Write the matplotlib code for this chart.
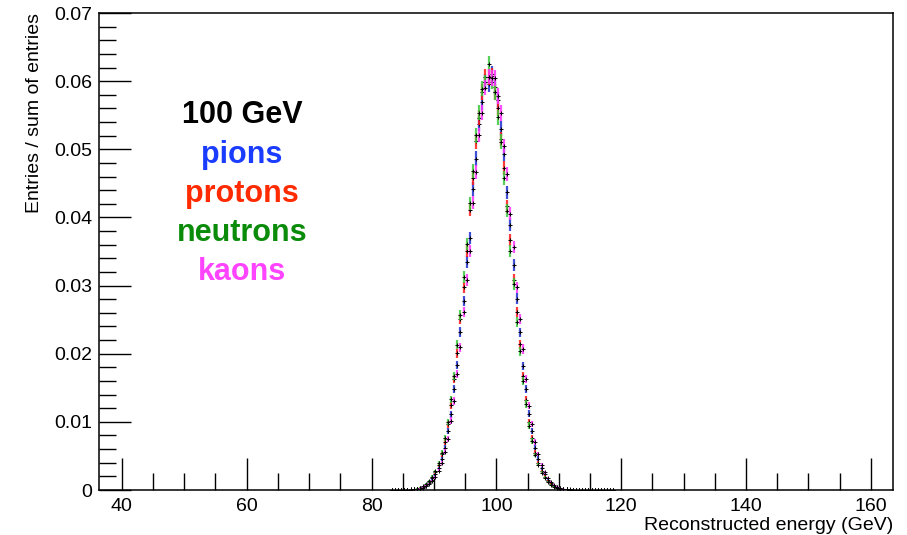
import numpy as np
import matplotlib
matplotlib.use("Agg")
import matplotlib.pyplot as plt
from matplotlib.ticker import MultipleLocator, FuncFormatter

plt.rcParams['font.family'] = ['Liberation Sans', 'DejaVu Sans']

# normalised reconstructed energy spectra, 0.5 GeV bins starting at 83 GeV
first_center = 83.25
bin_width = 0.5
n_events = 45000  # used for the statistical error bars

pions = [0.00001, 0.00001, 0.00002, 0.00002, 0.00003, 0.00004, 0.00006, 0.00010, 0.00017, 0.00025,
         0.00042, 0.00063, 0.00103, 0.00148, 0.00228, 0.00316, 0.00461, 0.00621, 0.00862, 0.01112,
         0.01478, 0.01836, 0.02318, 0.02772, 0.03344, 0.03702, 0.04418, 0.04864, 0.05372, 0.05688,
         0.05984, 0.05952, 0.06112, 0.05918, 0.05726, 0.05302, 0.04936, 0.04368, 0.03896, 0.03298,
         0.02808, 0.02312, 0.01822, 0.01482, 0.01118, 0.00862, 0.00622, 0.00461, 0.00316, 0.00228,
         0.00148, 0.00102, 0.00064, 0.00042, 0.00025, 0.00017, 0.00010, 0.00006, 0.00004, 0.00003,
         0.00003, 0.00002, 0.00002, 0.00001, 0.00001, 0.00001, 0.00001, 0.00001, 0.0, 0.00001,
         0.0, 0.0]
protons = [0.00001, 0.00001, 0.00002, 0.00002, 0.00003, 0.00005, 0.00008, 0.00012, 0.00020, 0.00030,
           0.00050, 0.00076, 0.00120, 0.00174, 0.00262, 0.00366, 0.00524, 0.00704, 0.00962, 0.01241,
           0.01624, 0.02008, 0.02512, 0.02974, 0.03502, 0.04112, 0.04578, 0.05118, 0.05462, 0.05842,
           0.06058, 0.06062, 0.06082, 0.05838, 0.05604, 0.05148, 0.04732, 0.04162, 0.03668, 0.03086,
           0.02612, 0.02136, 0.01672, 0.01328, 0.01002, 0.00762, 0.00548, 0.00401, 0.00274, 0.00194,
           0.00126, 0.00085, 0.00053, 0.00035, 0.00021, 0.00013, 0.00008, 0.00006, 0.00004, 0.00003,
           0.00003, 0.00002, 0.00002, 0.00002, 0.00001, 0.00001, 0.00001, 0.00001, 0.00001, 0.0,
           0.0, 0.0]
neutrons = [0.00001, 0.00001, 0.00002, 0.00003, 0.00004, 0.00006, 0.00009, 0.00015, 0.00021, 0.00035,
            0.00053, 0.00086, 0.00126, 0.00194, 0.00274, 0.00401, 0.00547, 0.00762, 0.01001, 0.01331,
            0.01672, 0.02131, 0.02568, 0.03128, 0.03612, 0.04206, 0.04682, 0.05204, 0.05538, 0.05892,
            0.05982, 0.06252, 0.05994, 0.05842, 0.05468, 0.05112, 0.04582, 0.04098, 0.03514, 0.03022,
            0.02472, 0.02036, 0.01598, 0.01262, 0.00946, 0.00718, 0.00512, 0.00374, 0.00254, 0.00179,
            0.00116, 0.00078, 0.00048, 0.00032, 0.00019, 0.00012, 0.00008, 0.00005, 0.00004, 0.00003,
            0.00003, 0.00002, 0.00002, 0.00002, 0.00001, 0.00001, 0.00001, 0.00001, 0.0, 0.00001,
            0.0, 0.0]
kaons = [0.00001, 0.00001, 0.00001, 0.00002, 0.00003, 0.00004, 0.00005, 0.00008, 0.00013, 0.00022,
         0.00033, 0.00056, 0.00082, 0.00131, 0.00187, 0.00283, 0.00391, 0.00561, 0.00748, 0.01018,
         0.01306, 0.01702, 0.02096, 0.02612, 0.03082, 0.03502, 0.04214, 0.04672, 0.05212, 0.05538,
         0.05904, 0.06068, 0.06042, 0.06046, 0.05784, 0.05532, 0.05052, 0.04642, 0.04052, 0.03568,
         0.02978, 0.02512, 0.02068, 0.01624, 0.01236, 0.00968, 0.00702, 0.00526, 0.00364, 0.00262,
         0.00174, 0.00120, 0.00076, 0.00050, 0.00030, 0.00019, 0.00012, 0.00008, 0.00005, 0.00004,
         0.00003, 0.00003, 0.00002, 0.00002, 0.00002, 0.00001, 0.00001, 0.00001, 0.00001, 0.00001,
         0.00001, 0.0]

# name, values, text colour, error bar colour
series = [("pions", pions, "#1a3cff", "#2030d0"),
          ("protons", protons, "#ff2a00", "#ff1a1a"),
          ("neutrons", neutrons, "#0a8c0a", "#3cc83c"),
          ("kaons", kaons, "#ff44ff", "#ff33ff")]

fig = plt.figure(figsize=(9.07, 5.35), dpi=100)
ax = fig.add_axes([0.1092, 0.0841, 0.8754, 0.8916])

for name, vals, tcol, ecol in series:
    y = np.array(vals)
    x = first_center + bin_width * np.arange(len(y))
    err = np.sqrt(y / n_events)
    ax.errorbar(x, y, yerr=err, fmt='none', ecolor=ecol, elinewidth=1.6, capsize=0, alpha=0.85)
    ax.plot(x, y, linestyle='none', marker='+', color='black', markersize=3, markeredgewidth=0.7)

ax.set_xlim(36.35, 163.55)
ax.set_ylim(0, 0.07)

ax.xaxis.set_major_locator(MultipleLocator(20))
ax.xaxis.set_minor_locator(MultipleLocator(5))
ax.yaxis.set_major_locator(MultipleLocator(0.01))
ax.yaxis.set_minor_locator(MultipleLocator(0.002))
ax.yaxis.set_major_formatter(FuncFormatter(lambda v, p: "0" if abs(v) < 1e-9 else "%.2f" % v))

ax.tick_params(which='both', direction='in', top=False, right=False, labelsize=14, width=1.0)
ax.tick_params(which='major', length=23)
ax.tick_params(which='minor', length=12)
ax.tick_params(axis='y', pad=5)
ax.tick_params(axis='x', pad=6)
for sp in ax.spines.values():
    sp.set_linewidth(1.1)

ax.set_xlabel("Reconstructed energy (GeV)", fontsize=14, loc='right', labelpad=1)
ax.set_ylabel("Entries / sum of entries", fontsize=14, loc='top', labelpad=8)

# particle labels
ax.text(0.18, 0.786, "100 GeV", transform=ax.transAxes, ha='center', va='center',
        fontsize=22, fontweight='bold', color='black')
for i, (name, vals, tcol, ecol) in enumerate(series):
    ax.text(0.18, 0.702 - 0.0815 * i, name, transform=ax.transAxes, ha='center', va='center',
            fontsize=22, fontweight='bold', color=tcol)

fig.savefig("out.png", dpi=100)
